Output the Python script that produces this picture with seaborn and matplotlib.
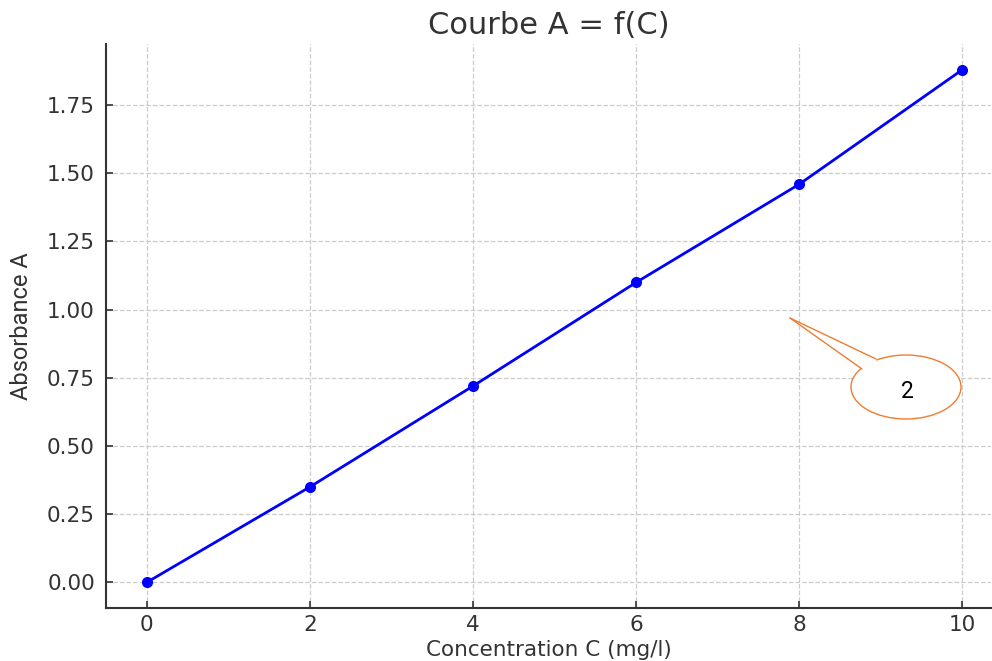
import matplotlib
matplotlib.use("Agg")
import matplotlib.pyplot as plt
import seaborn as sns
import pandas as pd
from matplotlib.patches import Ellipse, Polygon
from matplotlib.lines import Line2D

concentration = [0, 2, 4, 6, 8, 10]
absorbance = [0.0, 0.35, 0.72, 1.10, 1.46, 1.88]
x_ticks = [0, 2, 4, 6, 8, 10]
y_ticks = [0.00, 0.25, 0.50, 0.75, 1.00, 1.25, 1.50, 1.75]

sns.set_theme(style="ticks")
plt.rcParams['font.family'] = ['DejaVu Sans']

df = pd.DataFrame({"C": concentration, "A": absorbance})

W, H = 992, 661
fig = plt.figure(figsize=(W / 100, H / 100), dpi=100)
ax = fig.add_axes([106 / W, 1 - 608 / H, (991 - 106) / W, (608 - 44) / H])

sns.lineplot(data=df, x="C", y="A", ax=ax, color="blue", linewidth=2,
             marker="o", markersize=8, markeredgewidth=0)

ax.set_xlim(-0.5, 10.35)
ax.set_ylim(-0.094, 1.974)
ax.set_xticks(x_ticks)
ax.set_yticks(y_ticks)
ax.set_yticklabels([f"{v:.2f}" for v in y_ticks])
ax.grid(True, linestyle="--", color="#cccccc", linewidth=0.9)
sns.despine(ax=ax)
for s in ["left", "bottom"]:
    ax.spines[s].set_color("#333333")
    ax.spines[s].set_linewidth(1.5)
ax.tick_params(axis="both", labelsize=15.5, colors="#333333", length=5, width=1.2,
               direction="in")
ax.tick_params(axis="x", pad=5)
ax.tick_params(axis="y", pad=8)

ax.set_title("Courbe A = f(C)", fontsize=22, color="#333333", pad=7)
ax.set_xlabel("Concentration C (mg/l)", fontsize=15.5, color="#333333", labelpad=4)
ax.set_ylabel("")
fig.text(22 / W, 1 - 326 / H, "Absorbance A", rotation=90, ha="center", va="center",
         fontsize=17, color="#333333",
         family=["Roboto", "DejaVu Sans"])

# Callout bubble (figure pixel coordinates)
def fx(px):
    return px / W

def fy(py):
    return 1 - py / H

orange = "#ED7D31"
ell = Ellipse((fx(906), fy(387)), 110 / W, 64 / H, transform=fig.transFigure,
              facecolor="white", edgecolor=orange, linewidth=1.0, zorder=5)
fig.add_artist(ell)
tip = (fx(790), fy(318))
b1 = (fx(876), fy(359))
b2 = (fx(862), fy(369))
tri = Polygon([tip, b1, (fx(880), fy(372)), b2], closed=True, transform=fig.transFigure,
              facecolor="white", edgecolor="none", zorder=6)
fig.add_artist(tri)
fig.add_artist(Line2D([tip[0], b1[0]], [tip[1], b1[1]], transform=fig.transFigure,
                      color=orange, linewidth=1.0, zorder=7))
fig.add_artist(Line2D([tip[0], b2[0]], [tip[1], b2[1]], transform=fig.transFigure,
                      color=orange, linewidth=1.0, zorder=7))
fig.text(fx(907), fy(392), "2", ha="center", va="center", fontsize=16.5, color="black",
         family=["Roboto", "DejaVu Sans"], zorder=8)

fig.savefig("out.png", dpi=100)
